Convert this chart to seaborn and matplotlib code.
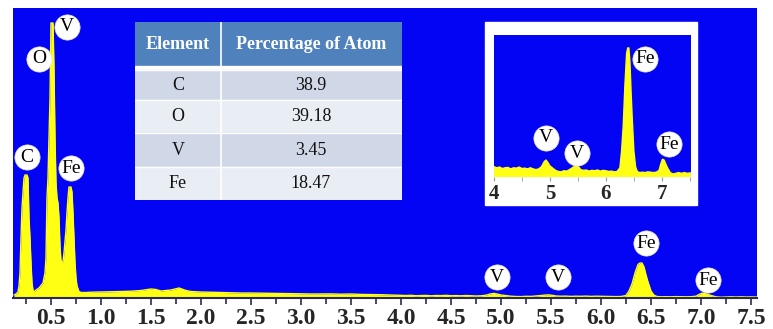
import numpy as np
import pandas as pd
import matplotlib.pyplot as plt
import seaborn as sns
from matplotlib.patches import Rectangle
from matplotlib.ticker import MultipleLocator, FixedLocator

# ----------------------------------------------------------
# Dati (energia in keV, conteggi)
# ----------------------------------------------------------

energy = [
    0.13, 0.15, 0.17, 0.18, 0.19, 0.20, 0.21, 0.22, 0.23, 0.24, 0.26, 0.27, 0.28, 0.29,
    0.30, 0.31, 0.32, 0.33, 0.35, 0.38, 0.42, 0.44, 0.45, 0.46, 0.47, 0.48, 0.49, 0.50,
    0.52, 0.53, 0.54, 0.55, 0.56, 0.57, 0.58, 0.59, 0.60, 0.62, 0.63, 0.65, 0.66, 0.67,
    0.68, 0.70, 0.71, 0.72, 0.73, 0.74, 0.75, 0.76, 0.78, 0.80,
    0.85, 0.90, 1.00, 1.10, 1.20, 1.30, 1.40, 1.50, 1.55, 1.60, 1.70, 1.78, 1.85, 1.90,
    2.00, 2.10, 2.20, 2.30, 2.40, 2.50, 2.60, 2.70, 2.80, 2.90, 3.00, 3.10, 3.20, 3.30,
    3.40, 3.50, 3.60, 3.70, 3.80, 3.90,
    4.00, 4.05, 4.10, 4.15, 4.20, 4.25, 4.30, 4.35, 4.40, 4.45, 4.50, 4.55, 4.60, 4.65,
    4.70, 4.75, 4.80, 4.85, 4.90, 4.93, 4.97, 5.00, 5.05, 5.10, 5.15, 5.20, 5.25, 5.30,
    5.35, 5.40, 5.45, 5.48, 5.52, 5.55, 5.60, 5.65, 5.70, 5.75, 5.80, 5.85, 5.90, 5.95,
    6.00, 6.05, 6.10, 6.15, 6.20, 6.25, 6.28, 6.31, 6.34, 6.37, 6.39, 6.41, 6.43, 6.45,
    6.47, 6.50, 6.53, 6.56, 6.60, 6.65, 6.70, 6.75, 6.80, 6.85, 6.90, 6.95, 6.98, 7.01,
    7.04, 7.07, 7.10, 7.15, 7.20, 7.25, 7.30, 7.35, 7.40, 7.45, 7.50, 7.56,
]
counts = [
    30, 40, 60, 120, 250, 600, 900, 1050, 1200, 1230, 1230, 1200, 800, 600,
    350, 150, 80, 60, 80, 100, 150, 250, 400, 1000, 1200, 1600, 2000, 2750,
    2750, 2300, 1600, 1150, 1000, 950, 800, 520, 370, 360, 450, 680, 850, 1000,
    1110, 1110, 1060, 850, 600, 350, 200, 120, 65, 55,
    55, 58, 60, 62, 65, 68, 75, 90, 85, 70, 80, 100, 75, 65,
    60, 58, 55, 52, 50, 50, 48, 46, 45, 44, 42, 40, 40, 41,
    38, 40, 36, 35, 33, 30,
    28, 25, 27, 23, 25, 26, 22, 25, 24, 27, 23, 24, 22, 25,
    22, 20, 22, 28, 42, 46, 38, 30, 24, 18, 15, 14, 17, 16,
    20, 25, 30, 31, 26, 20, 18, 19, 16, 18, 17, 19, 16, 18,
    17, 15, 16, 14, 15, 25, 70, 140, 250, 335, 350, 350, 310, 230,
    160, 70, 28, 15, 12, 13, 12, 14, 13, 12, 13, 18, 35, 48,
    46, 35, 25, 12, 8, 10, 12, 10, 12, 10, 11, 10,
]

# etichette dei picchi (posizione in unita' dei dati)
main_labels = ["C", "O", "V", "Fe", "V", "V", "Fe", "Fe"]
main_label_x = [0.26, 0.38, 0.66, 0.70, 4.96, 5.57, 6.45, 7.07]
main_label_y = [1410, 2390, 2710, 1300, 210, 210, 550, 180]

inset_labels = ["V", "V", "Fe", "Fe"]
inset_label_x = [4.93, 5.48, 6.70, 7.13]
inset_label_y = [106, 65, 320, 89]

# tabella composizione
elements = ["C", "O", "V", "Fe"]
atom_pct = ["38.9", "39.18", "3.45", "18.47"]

df = pd.DataFrame({"energy": energy, "counts": counts})

BLUE = "#0404F4"
YELLOW = "#FFFF14"
SERIF = ["Liberation Serif", "DejaVu Serif"]

sns.set_style("white")
plt.rcParams["font.family"] = SERIF

fig = plt.figure(figsize=(7.73, 3.29), dpi=100)

# ----------------------------------------------------------
# Spettro principale
# ----------------------------------------------------------
ax = fig.add_axes([0.0168, 0.0942, 0.9625, 0.8815])
ax.set_facecolor(BLUE)
sns.lineplot(data=df, x="energy", y="counts", ax=ax, color=YELLOW, lw=1.0)
ax.fill_between(df["energy"], df["counts"], color=YELLOW, lw=0)
ax.set_xlim(0.12, 7.56)
ax.set_ylim(0, 2900)
ax.set_xlabel("")
ax.set_ylabel("")
ax.set_yticks([])
ax.xaxis.set_major_locator(FixedLocator(np.arange(0.5, 7.51, 0.5)))
ax.xaxis.set_minor_locator(MultipleLocator(0.25))
ax.set_xticklabels([f"{v:.1f}" for v in np.arange(0.5, 7.51, 0.5)])
ax.tick_params(axis="x", which="both", direction="out", bottom=True,
               color="#2a2a55", width=1.2, labelsize=17, pad=2)
ax.tick_params(axis="x", which="major", length=5)
ax.tick_params(axis="x", which="minor", length=4)
for t in ax.get_xticklabels():
    t.set_fontweight("bold")
for s in ["left", "top", "right"]:
    ax.spines[s].set_visible(False)
ax.spines["bottom"].set_color("#2a2a55")
ax.spines["bottom"].set_linewidth(1.5)

ax.scatter(main_label_x, main_label_y, s=330, color="white",
           edgecolor="#dddddd", lw=0.5, zorder=5, clip_on=False)
for lab, x, y in zip(main_labels, main_label_x, main_label_y):
    ax.text(x, y, lab, ha="center", va="center", fontsize=14, color="black", zorder=6)

# ----------------------------------------------------------
# Tabella
# ----------------------------------------------------------
tax = fig.add_axes([0.1746, 0.392, 0.3454, 0.541])
tax.set_xlim(0, 267)
tax.set_ylim(178, 0)
tax.axis("off")
tax.add_patch(Rectangle((0, 0), 267, 44, color="#4F81BD"))
tax.add_patch(Rectangle((0, 44), 267, 4, color="white"))
row_edges = [48, 78, 111, 145, 178]
row_cols = ["#D0D8E8", "#E9EDF4", "#D0D8E8", "#E9EDF4"]
for i in range(4):
    tax.add_patch(Rectangle((0, row_edges[i]), 267, row_edges[i + 1] - row_edges[i],
                            color=row_cols[i]))
    tax.plot([0, 267], [row_edges[i], row_edges[i]], color="white", lw=1)
    ym = (row_edges[i] + row_edges[i + 1]) / 2
    tax.text(43, ym, elements[i], ha="center", va="center", fontsize=13, color="#111111")
    tax.text(176, ym, atom_pct[i], ha="center", va="center", fontsize=13, color="#111111")
tax.plot([86, 86], [0, 178], color="white", lw=1.2)
tax.text(43, 22, "Element", ha="center", va="center", fontsize=13,
         fontweight="bold", color="white")
tax.text(176, 22, "Percentage of Atom", ha="center", va="center", fontsize=13,
         fontweight="bold", color="white")

# ----------------------------------------------------------
# Riquadro (zoom 4 - 7.5 keV)
# ----------------------------------------------------------
fig.patches.append(Rectangle((0.6274, 0.3769), 0.2743, 0.5562, transform=fig.transFigure,
                             color="white", zorder=1))
iax = fig.add_axes([0.639, 0.462, 0.2549, 0.4316])
iax.set_zorder(3)
iax.set_facecolor(BLUE)
sns.lineplot(data=df, x="energy", y="counts", ax=iax, color=YELLOW, lw=1.0)
iax.fill_between(df["energy"], df["counts"], color=YELLOW, lw=0)
iax.set_xlim(4, 7.52)
iax.set_ylim(0, 385)
iax.set_xlabel("")
iax.set_ylabel("")
iax.set_yticks([])
iax.set_xticks([4, 5, 6, 7])
iax.xaxis.set_minor_locator(MultipleLocator(0.5))
iax.tick_params(axis="x", which="both", direction="out", bottom=True, length=3,
                color="#999999", labelsize=15, pad=2)
for t in iax.get_xticklabels():
    t.set_fontweight("bold")
for s in iax.spines.values():
    s.set_visible(False)
iax.scatter(inset_label_x, inset_label_y, s=330, color="white",
            edgecolor="#dddddd", lw=0.5, zorder=5)
for lab, x, y in zip(inset_labels, inset_label_x, inset_label_y):
    iax.text(x, y, lab, ha="center", va="center", fontsize=14, color="black", zorder=6)

fig.savefig("out.png", dpi=100, facecolor="white")
